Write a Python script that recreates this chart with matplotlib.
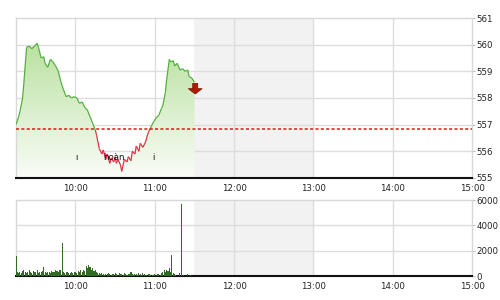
import matplotlib
matplotlib.use("Agg")
import matplotlib.pyplot as plt
import numpy as np
from matplotlib.collections import LineCollection
from matplotlib.colors import LinearSegmentedColormap
from matplotlib.patches import FancyArrow

# ---------------- data ----------------
price_times = ["09:15", "09:17", "09:18", "09:20", "09:21", "09:23", "09:25", "09:27",
               "09:29", "09:31", "09:32", "09:34", "09:36", "09:37", "09:39", "09:41",
               "09:43", "09:45", "09:47", "09:49", "09:51", "09:53", "09:55", "09:57",
               "09:59", "10:01", "10:03", "10:05", "10:07", "10:09", "10:11", "10:13",
               "10:15", "10:16", "10:18", "10:20", "10:21", "10:23", "10:24", "10:26",
               "10:27", "10:29", "10:30", "10:31", "10:32", "10:34", "10:35", "10:37",
               "10:39", "10:40", "10:42", "10:43", "10:45", "10:46", "10:48", "10:49",
               "10:51", "10:53", "10:55", "10:57", "10:59", "11:01", "11:03", "11:05",
               "11:06", "11:08", "11:09", "11:11", "11:12", "11:14", "11:15", "11:17",
               "11:19", "11:21", "11:23", "11:25", "11:26", "11:28", "11:30"]
price_values = [557.0, 557.3, 557.5, 558.0, 558.6, 559.9, 559.95, 559.85,
                559.95, 560.05, 559.9, 559.5, 559.55, 559.3, 559.15, 559.45,
                559.35, 559.2, 559.0, 558.6, 558.3, 558.05, 558.1, 558.0,
                558.05, 558.0, 557.8, 557.85, 557.65, 557.55, 557.3, 557.05,
                556.8, 556.6, 556.1, 555.9, 556.05, 555.7, 555.9, 555.55,
                555.75, 555.6, 555.8, 555.55, 555.7, 555.5, 555.25, 555.7,
                555.6, 555.8, 555.65, 556.0, 555.9, 556.2, 556.0, 556.3,
                556.15, 556.35, 556.7, 556.9, 557.1, 557.25, 557.35, 557.6,
                557.7, 558.2, 558.7, 559.45, 559.35, 559.4, 559.2, 559.3,
                559.05, 559.1, 559.0, 559.05, 558.8, 558.75, 558.6]
reference_price = 556.82

volume_start = "09:15"
volume_values = [1600, 300, 250, 350, 200, 400, 450, 300, 250, 350, 500, 300, 250, 400, 350,
                 300, 450, 250, 350, 300, 400, 700, 300, 250, 350, 300, 250, 400, 300, 350,
                 450, 400, 300, 450, 500, 2630, 300, 250, 350, 300, 250, 200, 300, 250, 350,
                 300, 250, 400, 350, 450, 300, 500, 400, 800, 600, 900, 700, 500, 600, 400,
                 450, 300, 250, 200, 150, 200, 150, 100, 150, 120, 200, 150, 100, 150, 120,
                 200, 150, 100, 250, 120, 150, 100, 200, 150, 100, 120, 150, 300, 150, 100,
                 150, 120, 100, 250, 150, 100, 200, 150, 100, 80, 120, 150, 100, 80, 100,
                 150, 100, 120, 150, 100, 200, 300, 450, 350, 500, 400, 600, 300, 1630, 250,
                 150, 100, 0, 0, 200, 5700, 0, 100, 0, 0, 150, 0, 100, 0, 0]

tick_labels = ["10:00", "11:00", "12:00", "13:00", "14:00", "15:00"]
price_ticks = [555, 556, 557, 558, 559, 560, 561]
volume_ticks = [0, 2000, 4000, 6000]
break_start, break_end = "11:30", "13:00"
annotations = [("ı", "10:01", 555.75), ("hoàn", "10:29", 555.75), ("i", "10:59", 555.75)]


def to_min(s):
    h, m = s.split(":")
    return int(h) * 60 + int(m) - 9 * 60


t = np.array([to_min(s) for s in price_times], dtype=float)
p = np.array(price_values)
vt = to_min(volume_start) + np.arange(len(volume_values))
v = np.array(volume_values)
xt = [to_min(s) for s in tick_labels]
xmin, xmax = to_min("09:15"), to_min("15:00")

fig = plt.figure(figsize=(5, 3), dpi=100)
ax = fig.add_axes([0.032, 0.4067, 0.912, 0.5333])
ax2 = fig.add_axes([0.032, 0.08, 0.912, 0.2533])

grid_c = "#dddddd"
for a in (ax, ax2):
    a.set_xlim(xmin, xmax)
    a.axvspan(to_min(break_start), to_min(break_end), color="#f2f2f2", zorder=0, lw=0)
    for x in xt[:-1]:
        a.axvline(x, color=grid_c, lw=1, zorder=0.5)
    a.set_xticks(xt)
    a.set_xticklabels(tick_labels, fontsize=6.2, color="#222222")
    a.tick_params(axis="x", length=0, pad=4)
    a.yaxis.tick_right()
    a.tick_params(axis="y", labelsize=6.2, labelcolor="#222222", length=2, color="#bbbbbb", pad=1)
    for sp in ("top", "left", "right"):
        a.spines[sp].set_color("#d8d8d8")
        a.spines[sp].set_linewidth(1)
    a.spines["bottom"].set_color("#111111")
    a.spines["bottom"].set_linewidth(1.5)

# price panel
ax.set_ylim(555, 561)
ax.set_yticks(price_ticks)
for y in price_ticks[1:-1]:
    ax.axhline(y, color=grid_c, lw=1, zorder=0.5)

# gradient fill under price
cmap = LinearSegmentedColormap.from_list("g", [(0.98, 0.99, 0.97), (0.72, 0.88, 0.62)])
grad = np.linspace(0, 1, 256).reshape(-1, 1)
poly = ax.fill_between(t, p, 555, color="none", lw=0)
im = ax.imshow(grad, extent=[xmin, t[-1], 555, 560.2], origin="lower", cmap=cmap,
               aspect="auto", zorder=1)
im.set_clip_path(poly.get_paths()[0], transform=ax.transData)
ax.set_xlim(xmin, xmax)
ax.set_ylim(555, 561)

pts = np.column_stack([t, p])
segs = np.stack([pts[:-1], pts[1:]], axis=1)
mid = (p[:-1] + p[1:]) / 2
cols = ["#dd3344" if m < reference_price else "#55b040" for m in mid]
ax.add_collection(LineCollection(segs, colors=cols, linewidths=0.9, zorder=3))

ax.axhline(reference_price, color="#ee1111", ls=(0, (2, 1.5)), lw=1.1, zorder=4)

# down arrow (vertical: width in minutes, length in price units)
ax.add_patch(FancyArrow(to_min("11:30") + 0.6, 558.55, 0, -0.4, width=3.8, head_width=10.5,
                        head_length=0.2, length_includes_head=True,
                        facecolor="#b01800", edgecolor="#7a0e00", lw=0.5, zorder=5))

for txt, tm, y in annotations:
    ax.text(to_min(tm), y, txt, fontsize=6.2, ha="center", va="center", color="#111111", zorder=5)

# volume panel
ax2.set_ylim(0, 6000)
ax2.set_yticks(volume_ticks)
for y in volume_ticks[1:-1]:
    ax2.axhline(y, color=grid_c, lw=1, zorder=0.5)
ax2.bar(vt, v, width=0.8, color="#2f6b22", zorder=3, lw=0)

fig.savefig("out.png", dpi=100)
